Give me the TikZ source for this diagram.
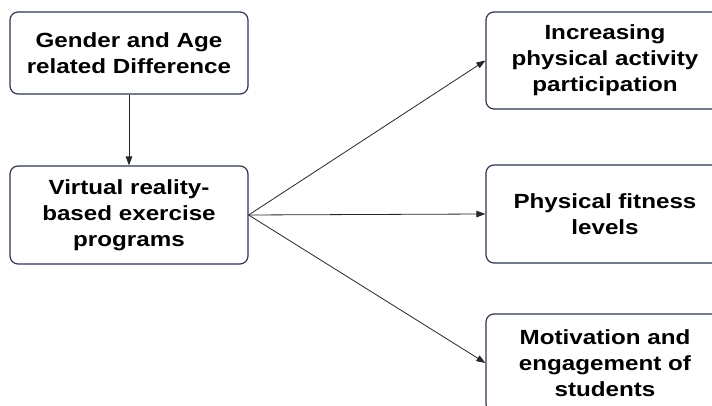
\documentclass[tikz,border=0pt]{standalone}
\usepackage{fontspec}
\setmainfont{Liberation Sans}[FakeStretch=1.18]
\usetikzlibrary{arrows.meta}
\definecolor{boxline}{HTML}{2E3650}
\begin{document}
\begin{tikzpicture}[x=1pt,y=1pt,
  box/.style={draw=boxline, line width=1.2pt, rounded corners=8pt,
    minimum width=238pt, align=center, inner sep=0pt,
    font=\bfseries\fontsize{20.5}{26}\selectfont},
  link/.style={-{Triangle[length=9pt,width=6.5pt]}, line width=0.8pt, draw=black!85}]
\useasboundingbox (0,0) rectangle (712,406);
\clip (0,0) rectangle (712,406);
% left column
\node[box, minimum height=82pt] (gender) at (129,353) {Gender and Age\\related Difference};
\node[box, minimum height=98pt] (vr) at (129,191) {Virtual reality-\\based exercise\\programs};
% right column
\node[box, minimum height=97pt] (part) at (605,345.5) {Increasing\\physical activity\\participation};
\node[box, minimum height=98pt] (fit) at (605,192) {Physical fitness\\levels};
\node[box, minimum height=98pt] (motiv) at (605,43) {Motivation and\\engagement of\\students};
% connectors
\draw[link] (gender) -- (vr);
\draw[link] (vr.east) -- (part.west);
\draw[link] (vr.east) -- (fit.west);
\draw[link] (vr.east) -- (motiv.west);
\end{tikzpicture}
\end{document}
